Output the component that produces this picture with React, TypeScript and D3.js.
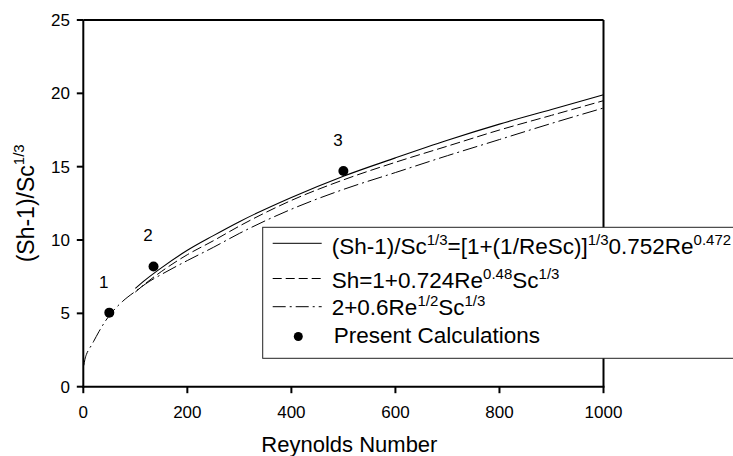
import React from "react";
import * as d3 from "d3";

const xTicks = [0, 200, 400, 600, 800, 1000];
const yTicks = [0, 5, 10, 15, 20, 25];

// Solid: (Sh-1)/Sc^1/3 = [1+(1/ReSc)]^1/3 0.752 Re^0.472
const solidRe = [100, 120, 150, 200, 250, 300, 400, 500, 600, 700, 800, 900, 1000];
const solidVal = [6.7, 7.3, 8.1, 9.3, 10.3, 11.25, 12.9, 14.35, 15.6, 16.8, 17.9, 18.9, 19.9];

// Dashed: Sh=1+0.724Re^0.48Sc^1/3
const dashedRe = [100, 120, 150, 200, 250, 300, 400, 500, 600, 700, 800, 900, 1000];
const dashedVal = [6.45, 7.05, 7.85, 9.0, 9.95, 10.95, 12.7, 14.1, 15.3, 16.4, 17.5, 18.5, 19.5];

// Dash-dot: 2+0.6Re^1/2Sc^1/3
const dashDotRe = [1, 3, 6, 10, 16, 20, 30, 42, 50, 75, 100, 128, 150, 200, 250, 300, 400, 500, 600, 700, 800, 900, 1000];
const dashDotVal = [1.45, 1.85, 2.2, 2.5, 2.84, 3.1, 3.75, 4.45, 4.85, 5.8, 6.5, 7.2, 7.65, 8.6, 9.5, 10.45, 12.1, 13.45, 14.6, 15.75, 16.85, 17.95, 19.0];

// Present calculations
const calcRe = [50, 135, 500];
const calcVal = [5.05, 8.2, 14.7];
const calcLabels = ["1", "2", "3"];

const FONT = "'Liberation Sans', Arial, Helvetica, sans-serif";

export default function App() {
  const W = 733, H = 456;
  const x = d3.scaleLinear().domain([0, 1000]).range([83.3, 603.5]);
  const y = d3.scaleLinear().domain([0, 25]).range([386.7, 20]);

  const line = d3
    .line<[number, number]>()
    .x((d) => x(d[0]))
    .y((d) => y(d[1]))
    .curve(d3.curveMonotoneX);

  const zip = (a: number[], b: number[]) => a.map((v, i) => [v, b[i]] as [number, number]);

  const legendX = 262.7;
  const legendY = 227.3;
  const sampleX1 = 272.7, sampleX2 = 321.7, textX = 331.7;
  const LF = 22.5, SF = 15, SD = 9;

  return (
    <svg
      width={W}
      height={H}
      style={{ position: "absolute", left: 0, top: 0, background: "#fff" }}
      fontFamily={FONT}
    >
      <rect x={0} y={0} width={W} height={H} fill="#fff" />
      {/* curves */}
      <path d={line(zip(dashDotRe, dashDotVal)) || ""} fill="none" stroke="#000" strokeWidth={1} strokeDasharray="15,4,2,4" />
      <path d={line(zip(dashedRe, dashedVal)) || ""} fill="none" stroke="#000" strokeWidth={1} strokeDasharray="10,4" />
      <path d={line(zip(solidRe, solidVal)) || ""} fill="none" stroke="#000" strokeWidth={1.1} />

      {/* points */}
      {calcRe.map((r, i) => (
        <g key={i}>
          <circle cx={x(r)} cy={y(calcVal[i])} r={5} fill="#000" />
          <text x={x(r) - 5.5} y={y(calcVal[i]) - 25} fontSize={17} textAnchor="middle">
            {calcLabels[i]}
          </text>
        </g>
      ))}

      {/* frame */}
      <line x1={x(0)} x2={x(1000)} y1={y(25)} y2={y(25)} stroke="#000" strokeWidth={2} />
      <line x1={x(1000)} x2={x(1000)} y1={y(25)} y2={y(0)} stroke="#000" strokeWidth={2} />
      <line x1={x(0)} x2={x(0)} y1={y(25)} y2={y(0) + 1} stroke="#000" strokeWidth={2} />
      <line x1={x(0) - 1} x2={x(1000) + 1} y1={y(0)} y2={y(0)} stroke="#000" strokeWidth={2} />

      {/* x ticks */}
      {xTicks.map((t) => (
        <g key={"x" + t}>
          <line x1={x(t)} x2={x(t)} y1={y(0)} y2={y(0) + 6.5} stroke="#000" strokeWidth={2} />
          <text x={x(t)} y={y(0) + 31} fontSize={17} textAnchor="middle">
            {t}
          </text>
        </g>
      ))}
      {/* y ticks */}
      {yTicks.map((t) => (
        <g key={"y" + t}>
          <line x1={x(0) - 6.5} x2={x(0)} y1={y(t)} y2={y(t)} stroke="#000" strokeWidth={2} />
          <text x={70} y={y(t) + 6} fontSize={17} textAnchor="end">
            {t}
          </text>
        </g>
      ))}

      {/* axis titles */}
      <text x={(x(0) + x(1000)) / 2 + 6} y={452} fontSize={22} textAnchor="middle">
        Reynolds Number
      </text>
      <text transform={`translate(34,${(y(0) + y(25)) / 2}) rotate(-90)`} fontSize={23} textAnchor="middle">
        (Sh-1)/Sc
        <tspan fontSize={15} dy={-10}>1/3</tspan>
      </text>

      {/* legend */}
      <rect x={legendX} y={legendY} width={500} height={131} fill="#fff" stroke="#222" strokeWidth={1} />
      <line x1={sampleX1} x2={sampleX2} y1={243.3} y2={243.3} stroke="#000" strokeWidth={1} />
      <line x1={sampleX1} x2={sampleX2} y1={278.5} y2={278.5} stroke="#000" strokeWidth={1} strokeDasharray="9,4" />
      <line x1={sampleX1} x2={sampleX2} y1={306.7} y2={306.7} stroke="#000" strokeWidth={1} strokeDasharray="13,4,2,4" />
      <circle cx={298.3} cy={336.5} r={4.5} fill="#000" />

      <text x={textX} y={253.5} fontSize={LF}>
        (Sh-1)/Sc<tspan fontSize={SF} dy={-SD}>1/3</tspan>
        <tspan dy={SD}>=[1+(1/ReSc)]</tspan>
        <tspan fontSize={SF} dy={-SD}>1/3</tspan>
        <tspan dy={SD}>0.752Re</tspan>
        <tspan fontSize={SF} dy={-SD}>0.472</tspan>
      </text>
      <text x={textX} y={287.5} fontSize={LF}>
        Sh=1+0.724Re<tspan fontSize={SF} dy={-SD}>0.48</tspan>
        <tspan dy={SD}>Sc</tspan>
        <tspan fontSize={SF} dy={-SD}>1/3</tspan>
      </text>
      <text x={textX} y={314.5} fontSize={LF}>
        2+0.6Re<tspan fontSize={SF} dy={-SD}>1/2</tspan>
        <tspan dy={SD}>Sc</tspan>
        <tspan fontSize={SF} dy={-SD}>1/3</tspan>
      </text>
      <text x={textX + 2} y={343} fontSize={LF}>
        Present Calculations
      </text>
    </svg>
  );
}
